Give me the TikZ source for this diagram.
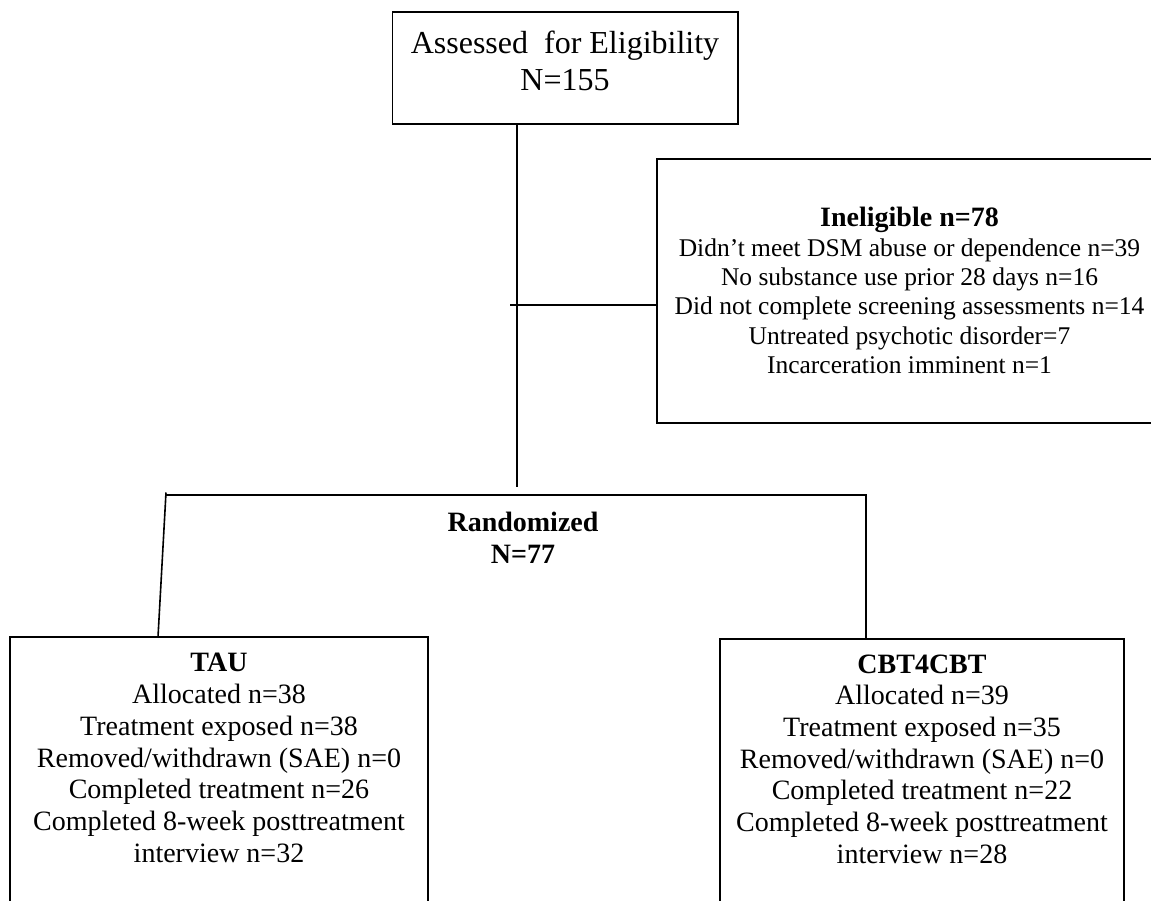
\documentclass[tikz,border=0pt]{standalone}
\usepackage{fontspec}
\setmainfont{Liberation Serif}
\begin{document}
\begin{tikzpicture}[x=1pt,y=-1pt,line width=1.6pt,
  box/.style={draw, rectangle, inner sep=0pt, outer sep=0pt},
  txt/.style={align=center, inner sep=0pt, anchor=north},
  conn/.style={draw, line width=1.6pt}]
\useasboundingbox (0,0) rectangle (1151,900);
\clip (0,0) rectangle (1151,900);
% boxes
\node[box, minimum width=345.7pt, minimum height=111.7pt] (top) at (565.2,68.1) {};
\node[box, minimum width=505pt, minimum height=264pt] (inel) at (909.5,291) {};
\node[box, minimum width=418pt, minimum height=278pt] (tau) at (219,776) {};
\node[box, minimum width=404pt, minimum height=276pt] (cbt) at (922,777) {};
% texts
\node[txt, font=\fontsize{32}{37}\selectfont] (toptxt) at (565,30) {Assessed\ \ for Eligibility\\N=155};
\node[txt, font=\fontsize{25.5}{29.3}\selectfont] (ineltxt) at (909.5,206.7)
  {{\fontsize{28}{29.3}\selectfont\bfseries Ineligible n=78}\\
   Didn’t meet DSM abuse or dependence n=39\\
   No substance use prior 28 days n=16\\
   Did not complete screening assessments n=14\\
   Untreated psychotic disorder=7\\
   Incarceration imminent n=1};
\node[txt, font=\fontsize{28}{32}\selectfont\bfseries] (randtxt) at (523,511.7) {Randomized\\N=77};
\node[txt, font=\fontsize{28}{31.7}\selectfont] (tautxt) at (219,652.7)
  {\textbf{TAU}\\Allocated n=38\\Treatment exposed n=38\\Removed/withdrawn (SAE) n=0\\Completed treatment n=26\\Completed 8-week posttreatment\\interview n=32};
\node[txt, font=\fontsize{28}{31.7}\selectfont] (cbttxt) at (922,653.7)
  {\textbf{CBT4CBT}\\Allocated n=39\\Treatment exposed n=35\\Removed/withdrawn (SAE) n=0\\Completed treatment n=22\\Completed 8-week posttreatment\\interview n=28};
% connectors
\coordinate (split) at (517,487);
\draw[conn] (top.south -| split) -- (split);
\coordinate (tick) at (510,305);
\draw[conn] (tick) -- (tick -| inel.west);
\coordinate (rl) at (166,492.5);
\coordinate (rh) at (166,495);
\coordinate (rr) at (866,495);
\coordinate (tl) at (158,637);
\draw[conn] (tau.north -| tl) -- (rl);
\draw[conn] (rh) -- (rr) -- (rr |- cbt.north);
\end{tikzpicture}
\end{document}
